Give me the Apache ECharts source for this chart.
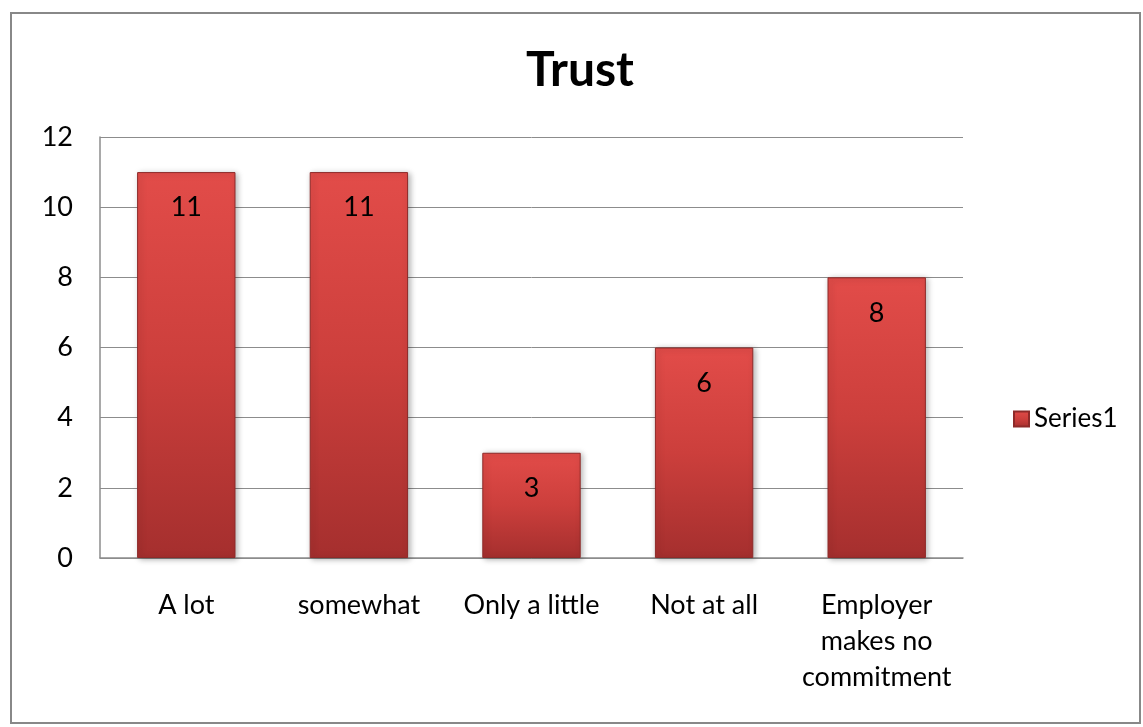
<!DOCTYPE html>
<html>
<head>
<meta charset="utf-8">
<script src="https://cdn.jsdelivr.net/npm/echarts@6/dist/echarts.min.js"></script>
<style>
  html, body { margin: 0; padding: 0; background: #fff; }
  #frame { position: absolute; left: 10px; top: 12px; width: 1131px; height: 712px; border: 2px solid #888; box-sizing: border-box; }
  #chart { width: 1143px; height: 727px; }
</style>
</head>
<body>
<div id="frame"></div>
<div id="chart"></div>
<script>
// Trust survey responses
const categories = ['A lot', 'somewhat', 'Only a little', 'Not at all', 'Employer\nmakes no\ncommitment'];
const series1 = [11, 11, 3, 6, 8];
const seriesName = 'Series1';

const font = 'Lato, "Open Sans", sans-serif';
const chart = echarts.init(document.getElementById('chart'));

const barFill = new echarts.graphic.LinearGradient(0, 0, 0, 1, [
  { offset: 0, color: '#e24c49' },
  { offset: 0.5, color: '#cc3f3c' },
  { offset: 1, color: '#a52f2e' }
]);

chart.setOption({
  animation: false,
  title: {
    text: 'Trust',
    left: 575,
    textAlign: 'center',
    top: 42,
    textStyle: { fontFamily: font, fontSize: 48, fontWeight: 'bold', color: '#000' }
  },
  legend: {
    data: [seriesName],
    orient: 'vertical',
    left: 1008,
    top: 401,
    itemWidth: 15,
    itemHeight: 15,
    itemGap: 5,
    icon: 'rect',
    textStyle: { fontFamily: font, fontSize: 26, color: '#000' }
  },
  grid: { left: 100, top: 137, width: 863, height: 421, containLabel: false },
  xAxis: {
    type: 'category',
    data: categories,
    axisLine: { show: true, lineStyle: { color: '#8c8c8c', width: 1.5 } },
    axisTick: { show: false },
    axisLabel: {
      interval: 0,
      margin: 29,
      fontFamily: font,
      fontSize: 27,
      lineHeight: 36,
      color: '#000'
    }
  },
  yAxis: {
    type: 'value',
    min: 0,
    max: 12,
    interval: 2,
    axisLine: { show: true, lineStyle: { color: '#8c8c8c', width: 1.5 } },
    axisTick: { show: false },
    axisLabel: { margin: 27, fontFamily: font, fontSize: 27, color: '#000' },
    splitLine: { lineStyle: { color: '#8c8c8c', width: 1 } }
  },
  series: [{
    name: seriesName,
    type: 'bar',
    data: series1,
    barWidth: '57%',
    itemStyle: {
      color: barFill,
      borderColor: '#8e2a29',
      borderWidth: 1,
      shadowColor: 'rgba(0,0,0,0.3)',
      shadowBlur: 6,
      shadowOffsetX: 2,
      shadowOffsetY: 1
    },
    label: {
      show: true,
      position: 'insideTop',
      distance: 22,
      fontFamily: font,
      fontSize: 27,
      color: '#000'
    }
  }]
});
</script>
</body>
</html>
